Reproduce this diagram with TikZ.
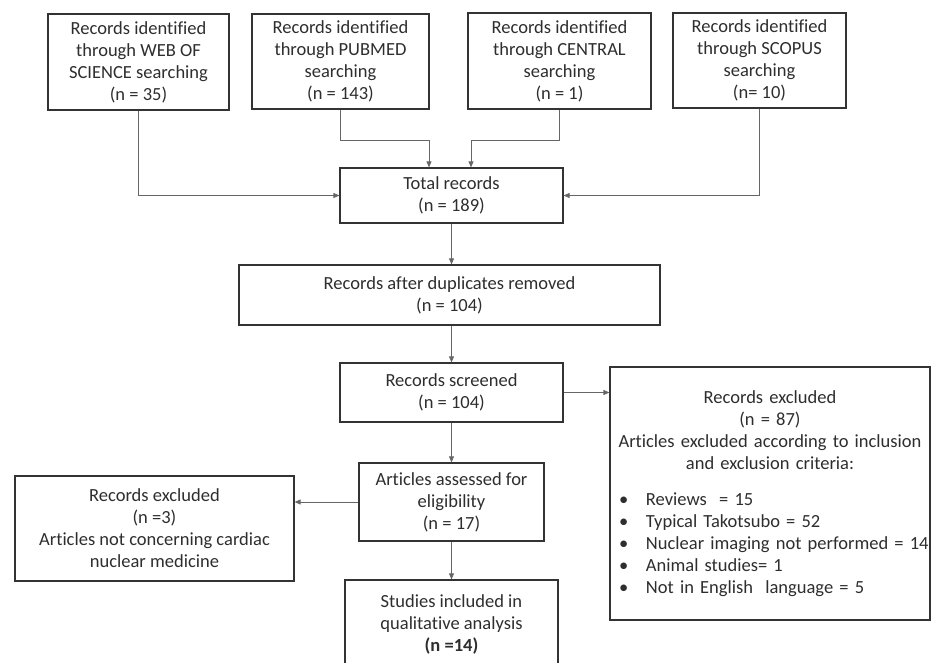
\documentclass[tikz,border=0pt]{standalone}
\usepackage{fontspec}
\setmainfont{Carlito}[Ligatures=NoCommon]
\usetikzlibrary{arrows.meta}
\newcommand{\bitem}[1]{\mbox{\hspace*{7pt}\makebox[27pt][l]{\textbullet}#1}}
\begin{document}
\begin{tikzpicture}[x=1pt,y=-1pt,
  box/.style={draw=black!80,line width=1.2pt,rectangle,inner sep=0pt,align=center,
    text=black!82,font=\fontsize{18.5}{22}\selectfont},
  conn/.style={draw=black!60,line width=0.8pt,-{Triangle[length=6pt,width=5pt]}},
]
\clip (0,0) rectangle (932,663);
\fill[white] (0,0) rectangle (932,663);
% top boxes
\node[box,minimum width=181pt,minimum height=96pt] (wos) at (138.5,62) {Records identified\\through WEB OF\\SCIENCE searching\\(n = 35)};
\node[box,minimum width=177pt,minimum height=95pt] (pub) at (340.5,61.5) {Records identified\\through PUBMED\\searching\\(n = 143)};
\node[box,minimum width=183pt,minimum height=96pt] (cen) at (559.5,61) {Records identified\\through CENTRAL\\searching\\(n = 1)};
\node[box,minimum width=173pt,minimum height=95pt] (sco) at (759.5,60.5) {Records identified\\through SCOPUS\\searching\\(n= 10)};
% main column
\node[box,minimum width=223pt,minimum height=55pt] (tot) at (451.5,195.5) {Total records\\(n = 189)};
\node[box,minimum width=421pt,minimum height=60pt] (dup) at (449.5,295) {Records after duplicates removed\\(n = 104)};
\node[box,minimum width=223pt,minimum height=59pt] (scr) at (451.5,392.5) {Records screened\\(n = 104)};
\node[box,minimum width=185pt,minimum height=78pt] (art) at (451.5,502) {Articles assessed for\\eligibility\\(n = 17)};
\node[box,minimum width=213pt,minimum height=88pt] (stu) at (451.5,624) {Studies included in\\qualitative analysis\\\textbf{(n =14)}};
% side boxes
\node[box,minimum width=279pt,minimum height=105pt] (lexc) at (154.5,528.5) {Records excluded\\(n =3)\\Articles not concerning cardiac\\nuclear medicine};
\node[box,minimum width=320pt,minimum height=253pt,text width=316pt,align=left] (rexc) at (770,493.5) {%
  {\centering Records excluded\\(n = 87)\\Articles excluded according to inclusion\\and exclusion criteria:\par}
  \vspace{14pt}
  \bitem{Reviews \ = 15}\\
  \bitem{Typical Takotsubo = 52}\\
  \bitem{Nuclear imaging not performed = 14}\\
  \bitem{Animal studies= 1}\\
  \bitem{Not in English \ language = 5}};
% connectors
\draw[conn] (wos.south) |- (tot.west);
\draw[conn] (pub.south) -- ++(0,30.5) -| ([xshift=-22.5pt]tot.north);
\draw[conn] (cen.south) -- ++(0,31) -| ([xshift=19.5pt]tot.north);
\draw[conn] (sco.south) |- (tot.east);
\draw[conn] (tot.south) -- (tot.south |- dup.north);
\draw[conn] (scr.north |- dup.south) -- (scr.north);
\draw[conn] (scr.east) -- (scr.east -| rexc.west);
\draw[conn] (scr.south) -- (art.north);
\draw[conn] (art.west) -- (art.west -| lexc.east);
\draw[conn] (art.south) -- (stu.north);
\end{tikzpicture}
\end{document}
